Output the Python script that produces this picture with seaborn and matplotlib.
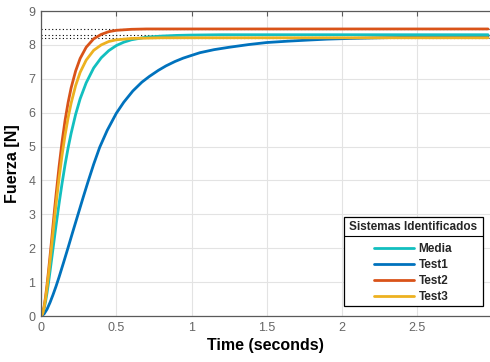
import numpy as np
import pandas as pd
import seaborn as sns
import matplotlib
matplotlib.use("Agg")
import matplotlib.pyplot as plt
from matplotlib.lines import Line2D
from matplotlib.patches import Rectangle

# Step responses of the identified systems (time in s, force in N)
t_media = [0, 0.01, 0.02, 0.03, 0.04, 0.05, 0.06, 0.07, 0.08, 0.09, 0.10, 0.12, 0.14, 0.16,
           0.18, 0.20, 0.23, 0.26, 0.30, 0.35, 0.40, 0.45, 0.50, 0.55, 0.60, 0.70, 0.80,
           0.90, 1.0, 1.2, 2.97]
v_media = [0, 0.056, 0.21, 0.42, 0.69, 0.99, 1.32, 1.66, 2.00, 2.34, 2.68, 3.32, 3.92, 4.47,
           4.96, 5.39, 5.95, 6.41, 6.88, 7.32, 7.62, 7.83, 7.98, 8.08, 8.15, 8.23, 8.26,
           8.28, 8.29, 8.30, 8.30]

t_test1 = [0, 0.02, 0.04, 0.06, 0.08, 0.10, 0.12, 0.15, 0.18, 0.21, 0.246, 0.28, 0.31, 0.35,
           0.39, 0.44, 0.50, 0.55, 0.61, 0.67, 0.72, 0.78, 0.83, 0.89, 0.945, 1.0, 1.056,
           1.15, 1.25, 1.38, 1.5, 1.64, 1.764, 1.9, 2.05, 2.25, 2.5, 2.75, 2.97]
v_test1 = [0, 0.06, 0.2, 0.4, 0.63, 0.88, 1.15, 1.58, 2.02, 2.47, 3.0, 3.5, 3.93, 4.48,
           4.98, 5.48, 5.98, 6.31, 6.64, 6.90, 7.07, 7.25, 7.38, 7.51, 7.61, 7.69, 7.77,
           7.86, 7.93, 8.01, 8.07, 8.11, 8.14, 8.17, 8.19, 8.21, 8.23, 8.25, 8.26]

t_test2 = [0, 0.01, 0.02, 0.03, 0.04, 0.05, 0.06, 0.07, 0.08, 0.09, 0.10, 0.12, 0.14, 0.16,
           0.18, 0.20, 0.23, 0.26, 0.30, 0.35, 0.40, 0.45, 0.50, 0.60, 0.70, 2.97]
v_test2 = [0, 0.07, 0.26, 0.56, 0.92, 1.33, 1.77, 2.22, 2.68, 3.14, 3.58, 4.41, 5.15, 5.78,
           6.30, 6.73, 7.23, 7.60, 7.93, 8.18, 8.31, 8.39, 8.43, 8.46, 8.47, 8.47]

t_test3 = [0, 0.01, 0.02, 0.03, 0.04, 0.05, 0.06, 0.07, 0.08, 0.09, 0.10, 0.12, 0.14, 0.16,
           0.18, 0.20, 0.23, 0.26, 0.30, 0.35, 0.40, 0.45, 0.50, 0.60, 0.70, 0.80, 2.97]
v_test3 = [0, 0.065, 0.24, 0.51, 0.84, 1.22, 1.63, 2.05, 2.47, 2.90, 3.31, 4.07, 4.75, 5.34,
           5.85, 6.28, 6.80, 7.19, 7.55, 7.84, 8.00, 8.10, 8.15, 8.19, 8.20, 8.21, 8.21]

series = {"Media": (t_media, v_media), "Test1": (t_test1, v_test1),
          "Test2": (t_test2, v_test2), "Test3": (t_test3, v_test3)}
legend_order = ["Media", "Test1", "Test2", "Test3"]
draw_order = ["Test1", "Media", "Test2", "Test3"]
colors = {"Media": "#12BFBF", "Test1": "#0072BD", "Test2": "#D95319", "Test3": "#EDB120"}

x_ticks = [0, 0.5, 1, 1.5, 2, 2.5]
x_tick_labels = ["0", "0.5", "1", "1.5", "2", "2.5"]
y_ticks = list(range(0, 10))

rows = []
for name, (tt, vv) in series.items():
    for a, b in zip(tt, vv):
        rows.append({"t": a, "v": b, "serie": name})
df = pd.DataFrame(rows)

sns.set_style("white")
plt.rcParams["font.family"] = ["Liberation Sans", "DejaVu Sans"]

fig = plt.figure(figsize=(4.9, 3.62), dpi=100)
ax = fig.add_axes([0.0837, 0.127, 0.9163, 0.8426])

# steady-state reference lines
for name in ["Test2", "Media", "Test3"]:
    ax.axhline(series[name][1][-1], color="black", linestyle=(0, (1, 2.2)),
               linewidth=0.8, zorder=1.5)

sns.lineplot(data=df, x="t", y="v", hue="serie", hue_order=draw_order,
             palette=colors, linewidth=2.0, legend=False, estimator=None,
             sort=False, ax=ax, zorder=2)

ax.set_xlim(0, 2.983)
ax.set_ylim(0, 9)
ax.set_xticks(x_ticks)
ax.set_xticklabels(x_tick_labels)
ax.set_yticks(y_ticks)
ax.grid(True, color="#e3e3e3", linewidth=0.8)
ax.set_axisbelow(True)

for side in ["left", "bottom", "top"]:
    ax.spines[side].set_color("#5a5a5a")
    ax.spines[side].set_linewidth(0.9)
ax.spines["right"].set_visible(False)
ax.tick_params(axis="both", direction="in", length=3.5, width=0.8, color="#5a5a5a",
               labelcolor="#666666", labelsize=9, top=True, right=False, pad=4)

ax.set_xlabel("Time (seconds)", fontsize=11.5, fontweight="bold", color="black", labelpad=3)
ax.set_ylabel("Fuerza [N]", fontsize=11.5, fontweight="bold", color="black", labelpad=6)

# legend box with title separator
bx0, bx1, by0, by1, sep = 0.675, 0.984, 0.033, 0.325, 0.262
ax.add_patch(Rectangle((bx0, by0), bx1 - bx0, by1 - by0, transform=ax.transAxes,
                       facecolor="white", edgecolor="black", linewidth=0.9, zorder=5))
ax.plot([bx0, bx1], [sep, sep], transform=ax.transAxes, color="black",
        linewidth=0.8, zorder=6)
ax.text((bx0 + bx1) / 2, (sep + by1) / 2, "Sistemas Identificados", transform=ax.transAxes,
        ha="center", va="center", fontsize=8.5, fontweight="bold", zorder=7)

handles = [Line2D([0], [0], color=colors[n], linewidth=2.0) for n in legend_order]
leg = ax.legend(handles, legend_order, loc="upper left", bbox_to_anchor=(0.742, 0.240),
                frameon=False, handlelength=3.4, handletextpad=0.35, labelspacing=0.35,
                prop={"weight": "bold", "size": 8.5}, borderaxespad=0, borderpad=0)
leg.set_zorder(8)

fig.savefig("out.png", dpi=100)
